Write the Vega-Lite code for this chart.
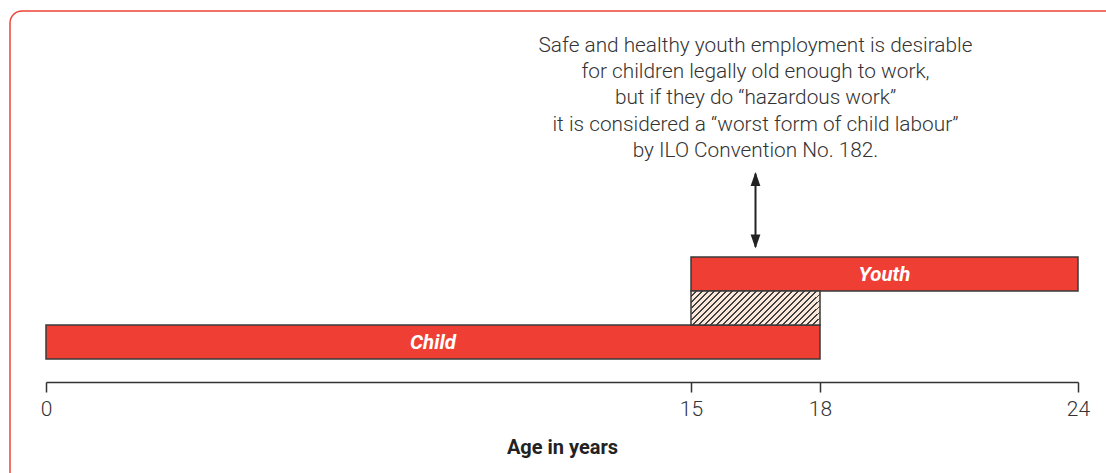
{
  "$schema": "https://vega.github.io/schema/vega-lite/v6.json",
  "width": 1110,
  "height": 476,
  "autosize": {"type": "none"},
  "padding": {"left": 10, "top": 11, "right": 0, "bottom": 0},
  "background": "white",
  "config": {
    "view": {"stroke": "#ee4437", "strokeWidth": 1.5, "cornerRadius": 12},
    "font": "Roboto"
  },
  "datasets": {
    "bars": [
      {"label": "Child", "start": 0, "end": 18, "lo": 0, "hi": 1},
      {"label": "Youth", "start": 15, "end": 24, "lo": 2, "hi": 3}
    ],
    "overlap": [
      {"label": "Hazardous work", "start": 15, "end": 18, "lo": 1, "hi": 2}
    ],
    "arrow": [
      {"age": 16.5, "bottom": 3.3, "top": 5.45}
    ],
    "heads": [
      {"age": 16.5, "tip": 5.5, "dir": "up"},
      {"age": 16.5, "tip": 3.25, "dir": "down"}
    ],
    "note": [
      {"age": 16.5, "level": 9.206, "text": "Safe and healthy youth employment is desirable\nfor children legally old enough to work,\nbut if they do “hazardous work”\nit is considered a “worst form of child labour”\nby ILO Convention No. 182."}
    ]
  },
  "layer": [
    {
      "data": {"name": "bars"},
      "mark": {"type": "rect", "fill": "#ef3e33", "stroke": "#3a3a3a", "strokeWidth": 1.5},
      "encoding": {
        "x": {"field": "start", "type": "quantitative",
          "scale": {"domain": [0, 24], "range": [36, 1068], "zero": false, "nice": false},
          "axis": {
            "values": [0, 15, 18, 24],
            "offset": -105,
            "grid": false,
            "domainColor": "#333333",
            "domainWidth": 1.5,
            "tickColor": "#333333",
            "tickWidth": 1.5,
            "tickSize": 10,
            "labelFont": "Roboto",
            "labelFontSize": 21,
            "labelFontWeight": 300,
            "labelColor": "#333333",
            "labelPadding": 6,
            "labelFlush": false,
            "title": "Age in years",
            "titleFont": "Roboto",
            "titleFontSize": 20,
            "titleFontWeight": "bold",
            "titleColor": "#222222",
            "titlePadding": 18
          }},
        "x2": {"field": "end"},
        "y": {"field": "lo", "type": "quantitative",
          "scale": {"domain": [0, 3], "range": [348, 246], "zero": false, "nice": false},
          "axis": null},
        "y2": {"field": "hi"}
      }
    },
    {
      "data": {"name": "overlap"},
      "mark": {"type": "rect", "stroke": "#3a3a3a", "strokeWidth": 1.5,
        "fill": {"gradient": "linear", "x1": 0, "y1": 0, "x2": 1.182, "y2": 0.314,
          "stops": [
            {"offset": 0, "color": "#fce8da"}, {"offset": 0.025, "color": "#fce8da"}, {"offset": 0.025, "color": "#404040"}, {"offset": 0.03704, "color": "#404040"},
            {"offset": 0.03704, "color": "#fce8da"}, {"offset": 0.0620, "color": "#fce8da"}, {"offset": 0.0620, "color": "#404040"}, {"offset": 0.07407, "color": "#404040"},
            {"offset": 0.07407, "color": "#fce8da"}, {"offset": 0.0991, "color": "#fce8da"}, {"offset": 0.0991, "color": "#404040"}, {"offset": 0.11111, "color": "#404040"},
            {"offset": 0.11111, "color": "#fce8da"}, {"offset": 0.1361, "color": "#fce8da"}, {"offset": 0.1361, "color": "#404040"}, {"offset": 0.14815, "color": "#404040"},
            {"offset": 0.14815, "color": "#fce8da"}, {"offset": 0.1731, "color": "#fce8da"}, {"offset": 0.1731, "color": "#404040"}, {"offset": 0.18519, "color": "#404040"},
            {"offset": 0.18519, "color": "#fce8da"}, {"offset": 0.2102, "color": "#fce8da"}, {"offset": 0.2102, "color": "#404040"}, {"offset": 0.22222, "color": "#404040"},
            {"offset": 0.22222, "color": "#fce8da"}, {"offset": 0.2472, "color": "#fce8da"}, {"offset": 0.2472, "color": "#404040"}, {"offset": 0.25926, "color": "#404040"},
            {"offset": 0.25926, "color": "#fce8da"}, {"offset": 0.2843, "color": "#fce8da"}, {"offset": 0.2843, "color": "#404040"}, {"offset": 0.2963, "color": "#404040"},
            {"offset": 0.2963, "color": "#fce8da"}, {"offset": 0.3213, "color": "#fce8da"}, {"offset": 0.3213, "color": "#404040"}, {"offset": 0.33333, "color": "#404040"},
            {"offset": 0.33333, "color": "#fce8da"}, {"offset": 0.3583, "color": "#fce8da"}, {"offset": 0.3583, "color": "#404040"}, {"offset": 0.37037, "color": "#404040"},
            {"offset": 0.37037, "color": "#fce8da"}, {"offset": 0.3954, "color": "#fce8da"}, {"offset": 0.3954, "color": "#404040"}, {"offset": 0.40741, "color": "#404040"},
            {"offset": 0.40741, "color": "#fce8da"}, {"offset": 0.4324, "color": "#fce8da"}, {"offset": 0.4324, "color": "#404040"}, {"offset": 0.44444, "color": "#404040"},
            {"offset": 0.44444, "color": "#fce8da"}, {"offset": 0.4694, "color": "#fce8da"}, {"offset": 0.4694, "color": "#404040"}, {"offset": 0.48148, "color": "#404040"},
            {"offset": 0.48148, "color": "#fce8da"}, {"offset": 0.5065, "color": "#fce8da"}, {"offset": 0.5065, "color": "#404040"}, {"offset": 0.51852, "color": "#404040"},
            {"offset": 0.51852, "color": "#fce8da"}, {"offset": 0.5435, "color": "#fce8da"}, {"offset": 0.5435, "color": "#404040"}, {"offset": 0.55556, "color": "#404040"},
            {"offset": 0.55556, "color": "#fce8da"}, {"offset": 0.5806, "color": "#fce8da"}, {"offset": 0.5806, "color": "#404040"}, {"offset": 0.59259, "color": "#404040"},
            {"offset": 0.59259, "color": "#fce8da"}, {"offset": 0.6176, "color": "#fce8da"}, {"offset": 0.6176, "color": "#404040"}, {"offset": 0.62963, "color": "#404040"},
            {"offset": 0.62963, "color": "#fce8da"}, {"offset": 0.6546, "color": "#fce8da"}, {"offset": 0.6546, "color": "#404040"}, {"offset": 0.66667, "color": "#404040"},
            {"offset": 0.66667, "color": "#fce8da"}, {"offset": 0.6917, "color": "#fce8da"}, {"offset": 0.6917, "color": "#404040"}, {"offset": 0.7037, "color": "#404040"},
            {"offset": 0.7037, "color": "#fce8da"}, {"offset": 0.7287, "color": "#fce8da"}, {"offset": 0.7287, "color": "#404040"}, {"offset": 0.74074, "color": "#404040"},
            {"offset": 0.74074, "color": "#fce8da"}, {"offset": 0.7657, "color": "#fce8da"}, {"offset": 0.7657, "color": "#404040"}, {"offset": 0.77778, "color": "#404040"},
            {"offset": 0.77778, "color": "#fce8da"}, {"offset": 0.8028, "color": "#fce8da"}, {"offset": 0.8028, "color": "#404040"}, {"offset": 0.81481, "color": "#404040"},
            {"offset": 0.81481, "color": "#fce8da"}, {"offset": 0.8398, "color": "#fce8da"}, {"offset": 0.8398, "color": "#404040"}, {"offset": 0.85185, "color": "#404040"},
            {"offset": 0.85185, "color": "#fce8da"}, {"offset": 0.8769, "color": "#fce8da"}, {"offset": 0.8769, "color": "#404040"}, {"offset": 0.88889, "color": "#404040"},
            {"offset": 0.88889, "color": "#fce8da"}, {"offset": 0.9139, "color": "#fce8da"}, {"offset": 0.9139, "color": "#404040"}, {"offset": 0.92593, "color": "#404040"},
            {"offset": 0.92593, "color": "#fce8da"}, {"offset": 0.9509, "color": "#fce8da"}, {"offset": 0.9509, "color": "#404040"}, {"offset": 0.96296, "color": "#404040"},
            {"offset": 0.96296, "color": "#fce8da"}, {"offset": 0.9880, "color": "#fce8da"}, {"offset": 0.9880, "color": "#404040"}, {"offset": 1, "color": "#404040"}
          ]}},
      "encoding": {
        "x": {"field": "start", "type": "quantitative"},
        "x2": {"field": "end"},
        "y": {"field": "lo", "type": "quantitative"},
        "y2": {"field": "hi"}
      }
    },
    {
      "data": {"name": "bars"},
      "transform": [
        {"calculate": "(datum.start + datum.end) / 2", "as": "mid"},
        {"calculate": "(datum.lo + datum.hi) / 2", "as": "ymid"}
      ],
      "mark": {"type": "text", "color": "white", "font": "Roboto", "fontSize": 20.5, "fontWeight": "bold", "fontStyle": "italic", "baseline": "middle", "align": "center", "dy": 1},
      "encoding": {
        "x": {"field": "mid", "type": "quantitative"},
        "y": {"field": "ymid", "type": "quantitative"},
        "text": {"field": "label"}
      }
    },
    {
      "data": {"name": "arrow"},
      "mark": {"type": "rule", "color": "#222222", "strokeWidth": 2},
      "encoding": {
        "x": {"field": "age", "type": "quantitative"},
        "y": {"field": "bottom", "type": "quantitative"},
        "y2": {"field": "top"}
      }
    },
    {
      "data": {"name": "heads"},
      "mark": {"type": "point", "filled": true, "color": "#222222", "opacity": 1, "size": 196},
      "encoding": {
        "x": {"field": "age", "type": "quantitative"},
        "y": {"field": "tip", "type": "quantitative"},
        "shape": {"field": "dir", "type": "nominal",
          "scale": {"domain": ["up", "down"], "range": ["M0,0L0.7,2L-0.7,2Z", "M0,0L0.7,-2L-0.7,-2Z"]},
          "legend": null}
      }
    },
    {
      "data": {"name": "note"},
      "mark": {"type": "text", "font": "Roboto", "fontSize": 20.8, "fontWeight": 300, "color": "#333333", "align": "center", "baseline": "middle", "lineBreak": "\n", "lineHeight": 26.2},
      "encoding": {
        "x": {"field": "age", "type": "quantitative"},
        "y": {"field": "level", "type": "quantitative"},
        "text": {"field": "text"}
      }
    }
  ]
}
